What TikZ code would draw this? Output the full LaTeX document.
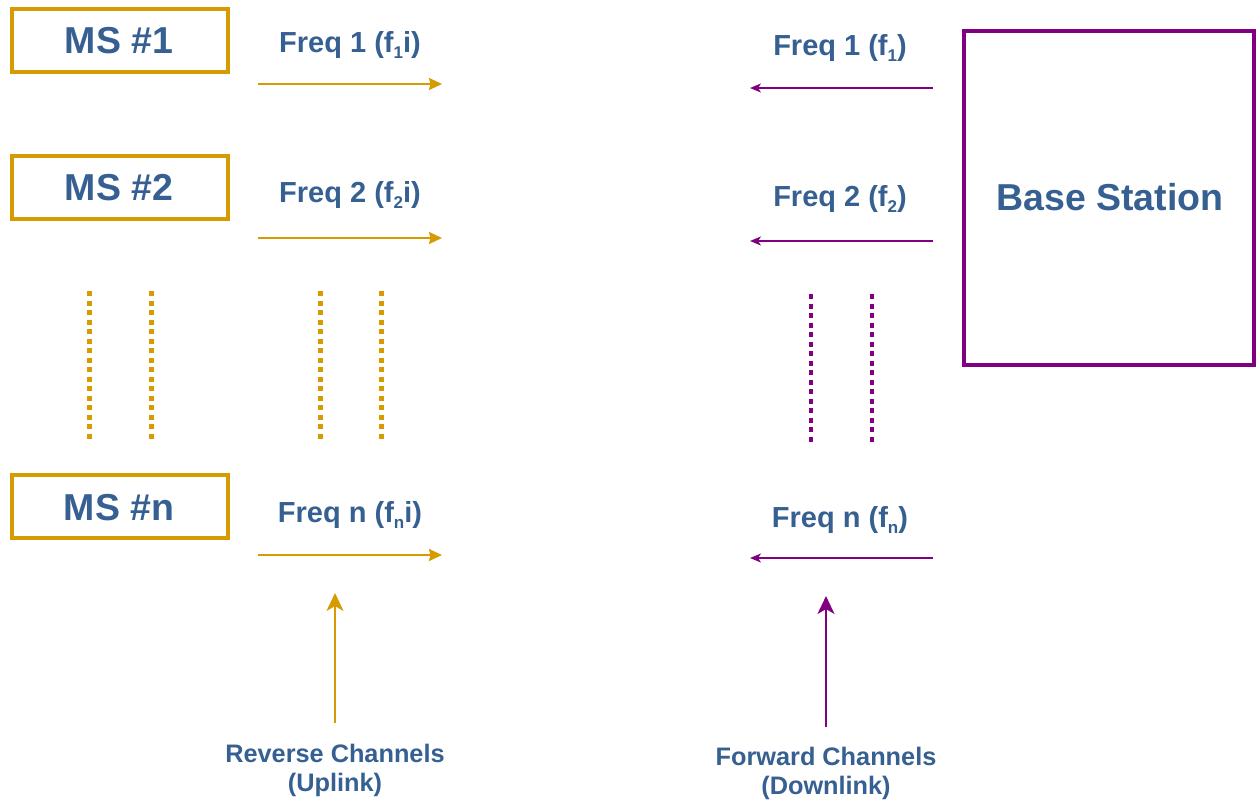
\documentclass[tikz,border=0pt]{standalone}
\usepackage{fontspec}
\setmainfont{Liberation Sans}
\usetikzlibrary{arrows.meta}
\definecolor{txtblue}{RGB}{54,96,146}
\definecolor{gold}{RGB}{214,155,0}
\definecolor{purp}{RGB}{128,0,128}
\tikzset{
  msbox/.style={draw=gold,line width=4pt,minimum width=216pt,minimum height=63pt,inner sep=0pt,
    text=txtblue,font=\bfseries\fontsize{37}{44}\selectfont},
  bsbox/.style={draw=purp,line width=4pt,minimum width=290pt,minimum height=334pt,inner sep=0pt},
  freq/.style={anchor=base,inner sep=0pt,text=txtblue,font=\bfseries\fontsize{29}{34}\selectfont},
  big/.style={anchor=base,inner sep=0pt,text=txtblue,font=\bfseries\fontsize{37.5}{44}\selectfont},
  chan/.style={anchor=base,inner sep=0pt,text=txtblue,align=center,font=\bfseries\fontsize{25.3}{29}\selectfont},
  uparr/.style={draw=gold,line width=2pt,-{Stealth[length=13pt,width=12pt,inset=1.5pt]}},
  downarr/.style={draw=purp,line width=1.6pt,-{Stealth[length=11pt,width=9pt,inset=3pt]}},
  vgold/.style={draw=gold,line width=2pt,-{Stealth[length=18pt,width=17pt,inset=5pt]}},
  vpurp/.style={draw=purp,line width=2pt,-{Stealth[length=18pt,width=17pt,inset=5pt]}},
  gdots/.style={draw=gold,line width=5pt,dash pattern=on 5pt off 4.5pt},
  pdots/.style={draw=purp,line width=4.5pt,dash pattern=on 5pt off 4.5pt},
}
\newcommand{\sbs}[1]{\raisebox{-0.45ex}{\fontsize{17}{20}\selectfont #1}}
\begin{document}
\begin{tikzpicture}[x=1pt,y=-1pt]
\useasboundingbox[fill=white] (0,0) rectangle (1257,801);
% MS boxes
\node[msbox] (ms1) at (120,40.5) {};
\node[big] (ms1t) at (119,53) {MS \#1};
\node[msbox] (ms2) at (120,187.5) {};
\node[big] (ms2t) at (119,200) {MS \#2};
\node[msbox] (msn) at (120,506.5) {};
\node[big] (msnt) at (119,520) {MS \#n};
% Base station
\node[bsbox] (bs) at (1109,198) {};
\node[big] (bst) at (1110,210) {Base Station};
% uplink labels
\node[freq] (u1) at (350,52) {Freq 1 (f\sbs{1}i)};
\node[freq] (u2) at (350,202) {Freq 2 (f\sbs{2}i)};
\node[freq] (un) at (350,522) {Freq n (f\sbs{n}i)};
% downlink labels
\node[freq] (d1) at (840,55) {Freq 1 (f\sbs{1})};
\node[freq] (d2) at (840,206) {Freq 2 (f\sbs{2})};
\node[freq] (dn) at (840,527) {Freq n (f\sbs{n})};
% uplink arrows
\coordinate (ua1) at (258,84); \coordinate (ub1) at (442,84);
\coordinate (ua2) at (258,238); \coordinate (ub2) at (442,238);
\coordinate (uan) at (258,555); \coordinate (ubn) at (442,555);
\draw[uparr] (ua1) -- (ub1);
\draw[uparr] (ua2) -- (ub2);
\draw[uparr] (uan) -- (ubn);
% downlink arrows
\coordinate (da1) at (933,88); \coordinate (db1) at (750,88);
\coordinate (da2) at (933,241); \coordinate (db2) at (750,241);
\coordinate (dan) at (933,558); \coordinate (dbn) at (750,558);
\draw[downarr] (da1) -- (db1);
\draw[downarr] (da2) -- (db2);
\draw[downarr] (dan) -- (dbn);
% dotted lines
\foreach \xx/\nm in {89/g1,151/g2,320/g3,381/g4}{
  \coordinate (\nm a) at (\xx,291); \coordinate (\nm b) at (\xx,439);
  \draw[gdots] (\nm a) -- (\nm b);
}
\foreach \xx/\nm in {811/p1,872/p2}{
  \coordinate (\nm a) at (\xx,294); \coordinate (\nm b) at (\xx,443);
  \draw[pdots] (\nm a) -- (\nm b);
}
% channel labels
\node[chan] (rev) at (335,791) {Reverse Channels\\(Uplink)};
\node[chan] (fwd) at (826,794) {Forward Channels\\(Downlink)};
\coordinate (revb) at (335,723); \coordinate (revt) at (335,593);
\coordinate (fwdb) at (826,727); \coordinate (fwdt) at (826,596);
\draw[vgold] (revb) -- (revt);
\draw[vpurp] (fwdb) -- (fwdt);
\end{tikzpicture}
\end{document}
